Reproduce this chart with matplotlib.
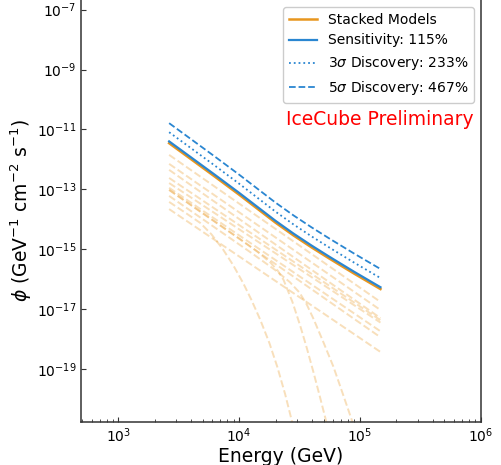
import matplotlib
matplotlib.use('Agg')
import matplotlib.pyplot as plt
from matplotlib.ticker import NullLocator, LogLocator
import numpy as np

# energies in log10(GeV); fluxes in log10(GeV^-1 cm^-2 s^-1)
stack_logE = [3.42, 3.6, 3.8, 4.0, 4.15, 4.3, 4.45, 4.6, 4.75, 4.95, 5.17]
stack_logphi = [-11.46, -11.99, -12.58, -13.18, -13.645, -14.11, -14.54, -14.94, -15.32, -15.81, -16.33]

# legend factors relative to the stacked flux
labels = ['Sensitivity: 115%', r'3$\sigma$ Discovery: 233%', r'5$\sigma$ Discovery: 467%']
factors = [1.15, 2.33, 4.67]
styles = ['-', ':', '--']

# single power-law models: flux at first and last energy
pl_logE = [3.42, 5.17]
pl_start = [-11.85, -12.15, -12.35, -12.62, -12.79, -12.95, -13.02, -13.66]
pl_end = [-16.76, -17.03, -17.30, -17.37, -17.45, -17.74, -17.94, -18.43]

# models with a cutoff
cut1_logE = [3.42, 3.55, 3.677, 3.77, 3.867, 3.95, 4.033, 4.1, 4.174, 4.25, 4.315, 4.38, 4.439, 4.48]
cut1_logphi = [-13.42, -13.77, -14.12, -14.5, -15.01, -15.53, -16.13, -16.68, -17.35, -18.13, -18.92, -19.83, -20.78, -21.45]
cut2_logE = [3.42, 3.8, 4.0, 4.15, 4.26, 4.32, 4.367, 4.44, 4.505, 4.56, 4.616, 4.67, 4.718, 4.76]
cut2_logphi = [-13.02, -14.08, -14.64, -15.08, -15.45, -15.72, -16.02, -16.75, -17.55, -18.3, -19.12, -19.95, -20.71, -21.4]
cut3_logE = [3.42, 3.8, 4.1, 4.3, 4.42, 4.5, 4.56, 4.616, 4.7, 4.781, 4.86, 4.933, 4.98]
cut3_logphi = [-13.22, -14.28, -15.12, -15.7, -16.1, -16.45, -16.85, -17.33, -18.13, -18.93, -19.85, -20.71, -21.3]

orange = '#E8961E'
blue = '#2A86D1'

fig = plt.figure(figsize=(5.01, 4.65), dpi=100)
ax = fig.add_axes([81 / 501, 43 / 465, 399.7 / 501, 422 / 465])

for s, e in zip(pl_start, pl_end):
    ax.plot(10 ** np.array(pl_logE), 10 ** np.array([s, e]), ls='--', color=orange, alpha=0.3, lw=1.4)
for lx, ly in [(cut1_logE, cut1_logphi), (cut2_logE, cut2_logphi), (cut3_logE, cut3_logphi)]:
    ax.plot(10 ** np.array(lx), 10 ** np.array(ly), ls='--', color=orange, alpha=0.3, lw=1.4)

E = 10 ** np.array(stack_logE)
stacked = 10 ** np.array(stack_logphi)
ax.plot(E, stacked, color=orange, lw=1.8, label='Stacked Models')
for lab, f, st in zip(labels, factors, styles):
    ax.plot(E, stacked * f, ls=st, color=blue, lw=1.6 if st == '-' else 1.3, label=lab)

ax.set_xscale('log')
ax.set_yscale('log')
ax.set_xlim(490, 1e6)
ax.set_ylim(1.7e-21, 2.1e-7)
ax.set_yticks([1e-19, 1e-17, 1e-15, 1e-13, 1e-11, 1e-9, 1e-7])
ax.yaxis.set_minor_locator(NullLocator())
ax.xaxis.set_major_locator(LogLocator(base=10, numticks=10))
ax.xaxis.set_minor_locator(LogLocator(base=10, subs=np.arange(2, 10), numticks=20))
ax.tick_params(which='both', direction='in', labelsize=10, color='#333333')
ax.tick_params(which='major', length=3.5, pad=3.5)
ax.tick_params(which='minor', length=2)
for side in ['left', 'bottom', 'right']:
    ax.spines[side].set_linewidth(1.1)
    ax.spines[side].set_color('#333333')
ax.spines['top'].set_visible(False)

ax.set_xlabel('Energy (GeV)', fontsize=13.5, labelpad=1)
ax.set_ylabel(r'$\phi$ (GeV$^{-1}$ cm$^{-2}$ s$^{-1}$)', fontsize=13.5)
ax.yaxis.set_label_coords(-0.117, 0.5)

ax.legend(loc='upper right', fontsize=10, framealpha=1)
ax.text(0.983, 0.716, 'IceCube Preliminary', color='red', fontsize=13.5,
        ha='right', va='center', transform=ax.transAxes)

plt.savefig('out.png', dpi=100)
